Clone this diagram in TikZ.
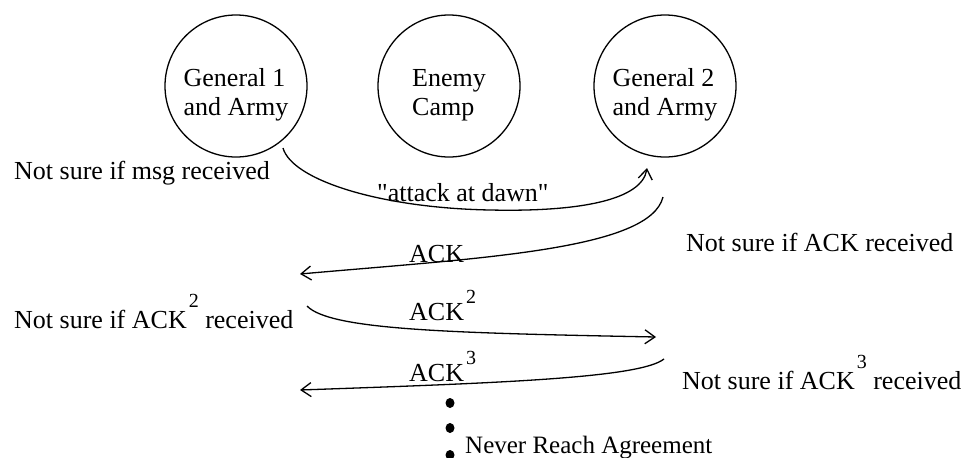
\documentclass[tikz,border=0pt]{standalone}
\usepackage{fontspec}
\setmainfont{Liberation Serif}
\usetikzlibrary{arrows.meta}
\newcommand\mysupA[1]{\kern2pt\raisebox{21pt}{\fontsize{20}{20}\selectfont #1}}
\newcommand\mysupB[1]{\kern2pt\raisebox{17pt}{\fontsize{20}{20}\selectfont #1}}
\begin{document}
\begin{tikzpicture}[x=1pt,y=-1pt,
  txt/.style={anchor=base west, inner sep=0pt, font=\fontsize{26}{29}\selectfont},
  camp/.style={circle, draw, line width=1.3pt, minimum size=142pt, inner sep=0pt,
               font=\fontsize{26}{29}\selectfont},
  msg/.style={line width=1.3pt,
              -{Straight Barb[length=10pt,width=14pt,line width=1.3pt]}},
  blob/.style={fill=black}
]
\useasboundingbox (0,0) rectangle (967,458);
\fill[white] (0,0) rectangle (967,458);

% camps
\node[camp] (g1) at (236,86)
  {\raisebox{-9pt}[\height][\depth]{\begin{tabular}{@{}l@{}}General 1\\and Army\end{tabular}}};
\node[camp] (en) at (449,86)
  {\raisebox{-9pt}[\height][\depth]{\begin{tabular}{@{}l@{}}Enemy\\Camp\end{tabular}}};
\node[camp] (g2) at (665,86)
  {\raisebox{-9pt}[\height][\depth]{\begin{tabular}{@{}l@{}}General 2\\and Army\end{tabular}}};

% texts
\node[txt] (t1) at (14,179) {Not sure if msg received};
\node[txt] (t2) at (686,251) {Not sure if ACK received};
\node[txt] (t3) at (14,328) {Not sure if ACK\mysupA{2} received};
\node[txt] (t4) at (682,389) {Not sure if ACK\mysupA{3} received};
\node[txt] (m1) at (377,201) {\textquotedbl attack at dawn\textquotedbl};
\node[txt] (m2) at (409,262) {ACK};
\node[txt] (m3) at (409,320) {ACK\mysupB{2}};
\node[txt] (m4) at (409,381) {ACK\mysupB{3}};
\node[txt, font=\fontsize{25}{29}\selectfont] (nv) at (465,453) {Never Reach Agreement};

% connector ends
\coordinate (a1s) at (283,148);
\coordinate (a1m) at (490,210);
\coordinate (a1e) at (647,168);
\coordinate (a2s) at (663,197);
\coordinate (a2e) at (300,274);
\coordinate (a3s) at (307,306);
\coordinate (a3e) at (656,337);
\coordinate (a4s) at (664,359);
\coordinate (a4e) at (300,390);

\draw[msg] (a1s) .. controls (292,180) and (380,208) .. (a1m)
                 .. controls (580,212) and (642,200) .. (a1e);
\draw[msg] (a2s) .. controls (650,250) and (480,258) .. (a2e);
\draw[msg] (a3s) .. controls (330,330) and (450,333) .. (a3e);
\draw[msg] (a4s) .. controls (640,378) and (500,383) .. (a4e);

% dots
\fill[blob] (450,403) ellipse [x radius=4.5pt, y radius=5pt];
\fill[blob] (450,428) ellipse [x radius=4.5pt, y radius=5pt];
\fill[blob] (450,455) ellipse [x radius=4.5pt, y radius=5pt];
\end{tikzpicture}
\end{document}
